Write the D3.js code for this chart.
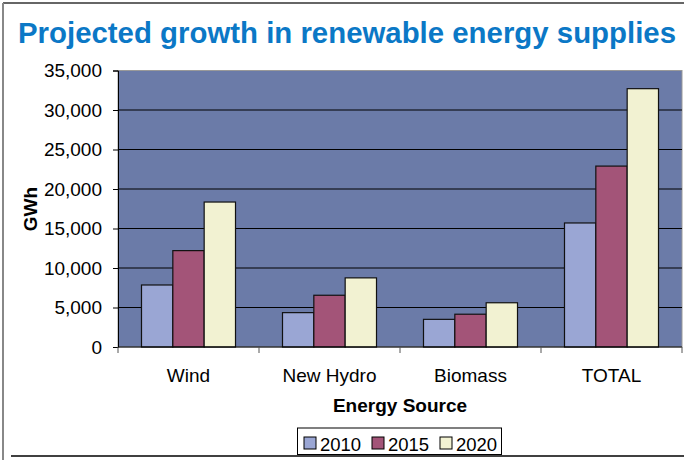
<!DOCTYPE html>
<html><head><meta charset="utf-8">
<script src="https://cdn.jsdelivr.net/npm/d3@7/dist/d3.min.js"></script>
<style>body{margin:0;background:#fff}svg{display:block;font-family:"Liberation Sans",Arial,sans-serif}</style>
</head><body><svg id="c" width="684" height="460"></svg>
<script>
const categories = ["Wind", "New Hydro", "Biomass", "TOTAL"];
const seriesNames = ["2010", "2015", "2020"];
const values2010 = [7850, 4350, 3500, 15700];
const values2015 = [12200, 6550, 4150, 22900];
const values2020 = [18350, 8750, 5600, 32700];
const yTicks = [0, 5000, 10000, 15000, 20000, 25000, 30000, 35000];
const colors = ["#9AA6D4", "#A35478", "#F2F2D2"];

const svg = d3.select("#c");
const L = 118, R = 682, T = 70.5, B = 347;

// outer frame
svg.append("line").attr("x1",3).attr("x2",684).attr("y1",3).attr("y2",3).attr("stroke","#333").attr("stroke-width",1.5);
svg.append("line").attr("x1",3).attr("x2",3).attr("y1",3).attr("y2",460).attr("stroke","#888").attr("stroke-width",2);
svg.append("line").attr("x1",11).attr("x2",684).attr("y1",456).attr("y2",456).attr("stroke","#000").attr("stroke-width",1.5);

svg.append("text").attr("x",18).attr("y",43)
  .attr("font-size",29).attr("font-weight","bold").attr("fill","#0B78C6")
  .attr("textLength",658).attr("lengthAdjust","spacingAndGlyphs")
  .text("Projected growth in renewable energy supplies");

const x0 = d3.scaleBand().domain(categories).range([L, R]).paddingInner(0).paddingOuter(0);
const groupPad = x0.bandwidth() / 6;
const x1 = d3.scaleBand().domain(seriesNames).range([groupPad, x0.bandwidth() - groupPad]);
const y = d3.scaleLinear().domain([0, 35000]).range([B, T]);

svg.append("rect").attr("x",L).attr("y",T).attr("width",R-L).attr("height",B-T)
  .attr("fill","#6B7BA8").attr("stroke","#999").attr("stroke-width",1);

// gridlines
svg.append("g").selectAll("line").data(yTicks.filter(d=>d>0 && d<35000)).join("line")
  .attr("x1",L).attr("x2",R).attr("y1",d=>y(d)).attr("y2",d=>y(d))
  .attr("stroke","#000").attr("stroke-width",1);

const data = [values2010, values2015, values2020];
categories.forEach((c, i) => {
  const g = svg.append("g").attr("transform", `translate(${x0(c)},0)`);
  seriesNames.forEach((s, j) => {
    g.append("rect").attr("x", x1(s)).attr("y", y(data[j][i]))
      .attr("width", x1.bandwidth()).attr("height", B - y(data[j][i]))
      .attr("fill", colors[j]).attr("stroke", "#111").attr("stroke-width", 1.2);
  });
});

// y axis
const yAxis = svg.append("g").attr("transform",`translate(${L},0)`)
  .call(d3.axisLeft(y).tickValues(yTicks).tickSize(5).tickPadding(11).tickFormat(d3.format(",")));
yAxis.select(".domain").attr("stroke","#000");
yAxis.selectAll("text").attr("font-size",19).attr("fill","#000").attr("font-family","Liberation Sans, Arial, sans-serif");

// x axis
const xAxisG = svg.append("g").attr("transform",`translate(0,${B})`);
xAxisG.append("line").attr("x1",L).attr("x2",R).attr("y1",0).attr("y2",0).attr("stroke","#000");
const bounds = categories.map(c => x0(c)).concat([R]);
xAxisG.selectAll(".tk").data(bounds).join("line").attr("class","tk")
  .attr("x1",d=>d).attr("x2",d=>d).attr("y1",0).attr("y2",6).attr("stroke","#555");
xAxisG.selectAll(".lb").data(categories).join("text").attr("class","lb")
  .attr("x",d=>x0(d)+x0.bandwidth()/2).attr("y",35).attr("text-anchor","middle")
  .attr("font-size",19).text(d=>d);

svg.append("text").attr("x",400).attr("y",412).attr("text-anchor","middle")
  .attr("font-size",19).attr("font-weight","bold").text("Energy Source");
svg.append("text").attr("transform","translate(37,209) rotate(-90)").attr("text-anchor","middle")
  .attr("font-size",19).attr("font-weight","bold").text("GWh");

// legend
const lg = svg.append("g");
lg.append("rect").attr("x",297.5).attr("y",428).attr("width",204).attr("height",26.5)
  .attr("fill","#fff").attr("stroke","#000");
const legX = [304, 372, 440];
seriesNames.forEach((s, j) => {
  const gx = legX[j];
  lg.append("rect").attr("x",gx).attr("y",437).attr("width",12).attr("height",12)
    .attr("fill",colors[j]).attr("stroke","#000").attr("stroke-width",1);
  lg.append("text").attr("x",gx+16).attr("y",450.5).attr("font-size",18.5).text(s);
});
</script></body></html>
